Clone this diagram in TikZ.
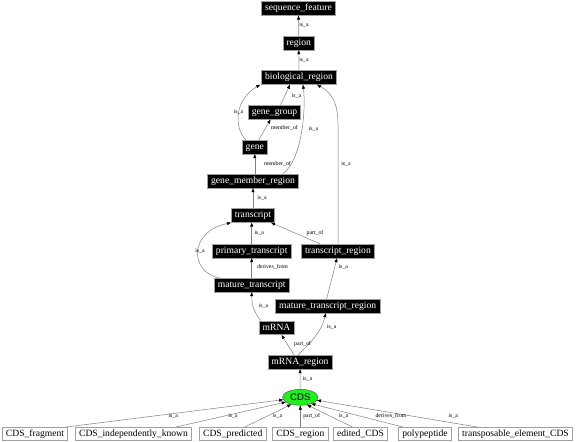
\documentclass[tikz,border=0pt]{standalone}
\usepackage{fontspec}
\setmainfont{Liberation Serif}
\newfontfamily\sansf{Liberation Sans}
\usetikzlibrary{arrows.meta,shapes.geometric}
\definecolor{edgegray}{HTML}{7F7F7F}
\definecolor{boxgray}{HTML}{A0A0A0}
\definecolor{cdsgreen}{HTML}{22EE22}
\tikzset{
  blk/.style={draw=boxgray,fill=black,text=white,font=\fontsize{9.6}{10}\selectfont,
    inner xsep=3.6pt,inner ysep=0pt,text height=7pt,text depth=2.2pt,minimum height=13.8pt,line width=0.6pt},
  wht/.style={draw=boxgray,fill=white,text=black,font=\fontsize{9.6}{10}\selectfont,
    inner xsep=3.6pt,inner ysep=0pt,text height=7pt,text depth=2.2pt,minimum height=13.3pt,line width=0.6pt},
  cds/.style={ellipse,draw=black!70,fill=cdsgreen,font=\sansf\fontsize{9.6}{10}\selectfont,
    minimum width=35.5pt,minimum height=16pt,inner sep=0pt},
  edge/.style={draw=edgegray,line width=0.5pt,-{Triangle[length=4pt,width=3pt,color=black]}},
  lbl/.style={font=\fontsize{5.8}{6.5}\selectfont,inner sep=0pt,text=black}
}
\begin{document}
\begin{tikzpicture}[x=1pt,y=-1pt]
\useasboundingbox (0,0) rectangle (576,442);
% nodes
\node[blk] (sf) at (298.5,8.5) {sequence\_feature};
\node[blk] (region) at (298.7,43) {region};
\node[blk] (bio) at (299,77.5) {biological\_region};
\node[blk] (gg) at (274.5,112.3) {gene\_group};
\node[blk] (gene) at (254.8,147) {gene};
\node[blk] (gmr) at (253,181) {gene\_member\_region};
\node[blk] (tr) at (253,215.5) {transcript};
\node[blk] (pt) at (251.7,251) {primary\_transcript};
\node[blk] (trr) at (338,251) {transcript\_region};
\node[blk] (mt) at (251.7,285) {mature\_transcript};
\node[blk] (mtr) at (327.7,306) {mature\_transcript\_region};
\node[blk] (mrna) at (276.5,327.7) {mRNA};
\node[blk] (mrnar) at (300,362) {mRNA\_region};
\node[cds] (cds) at (300.3,397.3) {CDS};
\node[wht] (frag) at (35,434) {CDS\_fragment};
\node[wht] (indep) at (133.5,434) {CDS\_independently\_known};
\node[wht] (pred) at (232.7,434) {CDS\_predicted};
\node[wht] (cdsr) at (300.3,434) {CDS\_region};
\node[wht] (ed) at (360.5,434) {edited\_CDS};
\node[wht] (poly) at (425,434) {polypeptide};
\node[wht] (te) at (515.5,434) {transposable\_element\_CDS};
% edges
\draw[edge] (region) -- (sf);
\draw[edge] (bio) -- (region);
\draw[edge] ([xshift=6pt]gg.north) -- ([xshift=-9pt]bio.south);
\draw[edge] ([xshift=4pt]gene.north west) .. controls (234,128) and (234,100) .. ([xshift=-1pt]bio.south west);
\draw[edge] ([xshift=4pt]gene.north) -- ([xshift=-4pt]gg.south);
\draw[edge] ([xshift=-16pt]gmr.north east) .. controls (302,160) and (306,110) .. ([xshift=4pt]bio.south);
\draw[edge] (gene.south |- gmr.north) -- (gene.south);
\draw[edge] (tr) -- (gmr);
\draw[edge] (trr.north) -- (338,125) .. controls (338,100) and (330,92) .. ([xshift=18pt]bio.south);
\draw[edge] ([xshift=-18pt]trr.north) -- ([xshift=-4pt]tr.south east);
\draw[edge] (pt.north) -- (pt.north |- tr.south);
\draw[edge] ([xshift=5pt]mt.north west) .. controls (190,272) and (188,232) .. ([xshift=0pt]tr.south west);
\draw[edge] (mt.north) -- (pt.south);
\draw[edge] ([xshift=-1pt]mtr.north) -- ([xshift=-1pt]trr.south);
\draw[edge] ([xshift=2pt]mrna.north west) .. controls (254,312) and (251.7,305) .. (mt.south);
\draw[edge] ([xshift=-6pt]mrnar.north) -- ([xshift=5pt]mrna.south);
\draw[edge] ([xshift=-2pt]mrnar.north) .. controls (312,342) and (322,330) .. ([xshift=-2pt]mtr.south);
\draw[edge] (cds) -- (mrnar);
\draw[edge] ([xshift=-2pt]frag.north east) -- (cds.188);
\draw[edge] ([xshift=-16pt]indep.north east) -- (cds.198);
\draw[edge] ([xshift=12pt]pred.north) -- (cds.218);
\draw[edge] (cdsr) -- (cds);
\draw[edge] ([xshift=-8pt]ed.north) -- (cds.312);
\draw[edge] ([xshift=-22pt]poly.north) -- (cds.330);
\draw[edge] ([xshift=-38pt]te.north) -- (cds.350);
% labels
\node[lbl] (l1) at (304,25) {is\_a};
\node[lbl] (l2) at (304,60) {is\_a};
\node[lbl] (l3) at (296.5,95.7) {is\_a};
\node[lbl] (l4) at (238.5,112.3) {is\_a};
\node[lbl] (l5) at (284.5,128) {member\_of};
\node[lbl] (l6) at (313.5,129) {is\_a};
\node[lbl] (l7) at (277.5,164) {member\_of};
\node[lbl] (l8) at (346,164) {is\_a};
\node[lbl] (l9) at (262,197.5) {is\_a};
\node[lbl] (l10) at (259.2,232.7) {is\_a};
\node[lbl] (l11) at (315,232.7) {part\_of};
\node[lbl] (l12) at (200,251) {is\_a};
\node[lbl] (l13) at (272.5,267.3) {derives\_from};
\node[lbl] (l14) at (343.3,267.3) {is\_a};
\node[lbl] (l15) at (263.5,306) {is\_a};
\node[lbl] (l16) at (302.5,344) {part\_of};
\node[lbl] (l17) at (331.7,326.7) {is\_a};
\node[lbl] (l18) at (307.5,379.3) {is\_a};
\node[lbl] (l19) at (173.3,416.3) {is\_a};
\node[lbl] (l20) at (233,416.3) {is\_a};
\node[lbl] (l21) at (277.5,416.3) {is\_a};
\node[lbl] (l22) at (311.7,416.3) {part\_of};
\node[lbl] (l23) at (343.5,416.3) {is\_a};
\node[lbl] (l24) at (391,416.3) {derives\_from};
\node[lbl] (l25) at (453.3,416.3) {is\_a};
\end{tikzpicture}
\end{document}
